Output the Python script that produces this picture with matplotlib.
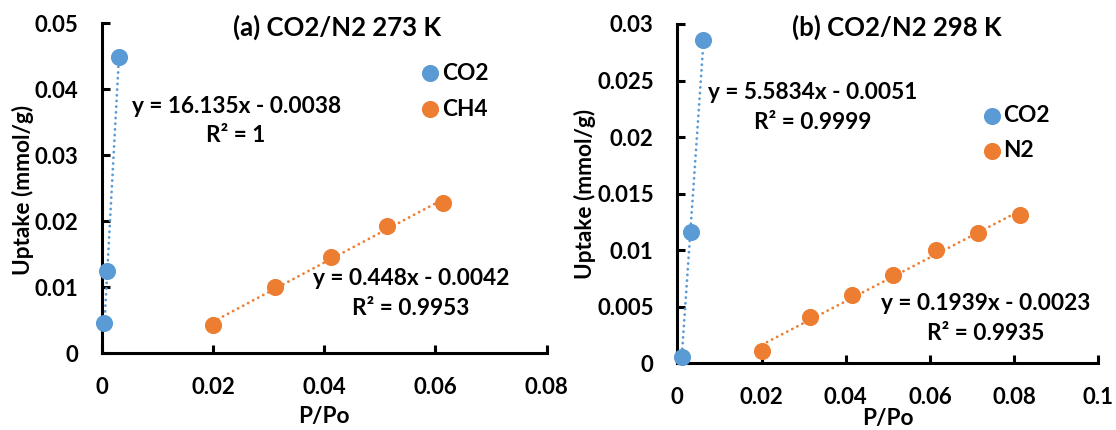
import numpy as np
import matplotlib
matplotlib.use("Agg")
import matplotlib.pyplot as plt

plt.rcParams['font.family'] = ['Lato', 'DejaVu Sans']
plt.rcParams['font.weight'] = 'bold'

# ---------------- data ----------------
a_co2_x = [0.0005, 0.001, 0.0031]
a_co2_y = [0.0046, 0.0124, 0.0449]
a_ch4_x = [0.0200, 0.0312, 0.0412, 0.0513, 0.0613]
a_ch4_y = [0.0043, 0.0101, 0.01455, 0.0193, 0.0227]

b_co2_x = [0.0010, 0.0032, 0.0062]
b_co2_y = [0.0006, 0.0116, 0.0286]
b_n2_x = [0.0201, 0.0315, 0.0414, 0.0513, 0.0614, 0.0715, 0.0814]
b_n2_y = [0.0011, 0.0041, 0.0060, 0.0078, 0.0100, 0.0115, 0.0131]

a_xticks = [0, 0.02, 0.04, 0.06, 0.08]
a_xticklabels = ["0", "0.02", "0.04", "0.06", "0.08"]
a_yticks = [0, 0.01, 0.02, 0.03, 0.04, 0.05]
a_yticklabels = ["0", "0.01", "0.02", "0.03", "0.04", "0.05"]
b_xticks = [0, 0.02, 0.04, 0.06, 0.08, 0.1]
b_xticklabels = ["0", "0.02", "0.04", "0.06", "0.08", "0.1"]
b_yticks = [0, 0.005, 0.01, 0.015, 0.02, 0.025, 0.03]
b_yticklabels = ["0", "0.005", "0.01", "0.015", "0.02", "0.025", "0.03"]

a_title = "(a) CO2/N2 273 K"
b_title = "(b) CO2/N2 298 K"
a_eq1 = ["y = 16.135x - 0.0038", "R² = 1"]
a_eq2 = ["y = 0.448x - 0.0042", "R² = 0.9953"]
b_eq1 = ["y = 5.5834x - 0.0051", "R² = 0.9999"]
b_eq2 = ["y = 0.1939x - 0.0023", "R² = 0.9935"]
a_names = ["CO2", "CH4"]
b_names = ["CO2", "N2"]

BLUE = "#5B9BD5"
ORANGE = "#ED7D31"

fig = plt.figure(figsize=(11.16, 4.30), dpi=100)
W, H = 1116, 430

def make_ax(l, r, t, b):
    return fig.add_axes([l / W, 1 - b / H, (r - l) / W, (b - t) / H])

axa = make_ax(101.7, 546.7, 23.3, 353.3)
axb = make_ax(677.3, 1098.3, 24.0, 363.3)

TICK_FS = 16
TXT_FS = 16.3
TITLE_FS = 18.5

def style(ax, xt, xtl, yt, ytl, xlim, ylim):
    ax.set_xlim(*xlim)
    ax.set_ylim(*ylim)
    for s in ["top", "right"]:
        ax.spines[s].set_visible(False)
    for s in ["left", "bottom"]:
        ax.spines[s].set_linewidth(2.2)
        ax.spines[s].set_color("black")
    ax.set_xticks(xt)
    ax.set_xticklabels(xtl)
    ax.set_yticks(yt)
    ax.set_yticklabels(ytl)
    ax.tick_params(axis="both", direction="in", length=6, width=2.2,
                   labelsize=TICK_FS, color="black")
    ax.tick_params(axis="x", pad=17)
    ax.tick_params(axis="y", pad=17)
    for lab in ax.get_xticklabels() + ax.get_yticklabels():
        lab.set_fontweight("bold")

def series(ax, x, y, color):
    x = np.asarray(x); y = np.asarray(y)
    k, c = np.polyfit(x, y, 1)
    xx = np.array([x.min(), x.max()])
    ax.plot(xx, k * xx + c, color=color, lw=2.0,
            linestyle=(0, (0.05, 2.0)), dash_capstyle="round", zorder=2,
            clip_on=False)
    ax.plot(x, y, "o", color=color, ms=11.3, mec=color, zorder=3, clip_on=False)

style(axa, a_xticks, a_xticklabels, a_yticks, a_yticklabels, (0, 0.08), (0, 0.05))
style(axb, b_xticks, b_xticklabels, b_yticks, b_yticklabels, (0, 0.1), (0, 0.03))

series(axa, a_co2_x, a_co2_y, BLUE)
series(axa, a_ch4_x, a_ch4_y, ORANGE)
series(axb, b_co2_x, b_co2_y, BLUE)
series(axb, b_n2_x, b_n2_y, ORANGE)

def txt(ax, x, y, s, fs=TXT_FS, ha="center"):
    ax.text(x, y, s, transform=ax.transAxes, ha=ha, va="center",
            fontsize=fs, fontweight="bold", color="black")

# panel a annotations
txt(axa, 0.528, 0.989, a_title, fs=TITLE_FS)
txt(axa, 0.302, 0.749, a_eq1[0]); txt(axa, 0.302, 0.661, a_eq1[1])
txt(axa, 0.695, 0.228, a_eq2[0]); txt(axa, 0.695, 0.137, a_eq2[1])
for (yy, name, col) in [(0.849, a_names[0], BLUE), (0.740, a_names[1], ORANGE)]:
    axa.plot([0.738], [yy], "o", color=col, ms=11.3, transform=axa.transAxes, clip_on=False)
    txt(axa, 0.764, yy, name, ha="left")

# panel b annotations
txt(axb, 0.522, 0.991, b_title, fs=TITLE_FS)
txt(axb, 0.322, 0.797, b_eq1[0]); txt(axb, 0.322, 0.711, b_eq1[1])
txt(axb, 0.732, 0.175, b_eq2[0]); txt(axb, 0.732, 0.089, b_eq2[1])
for (yy, name, col) in [(0.729, b_names[0], BLUE), (0.626, b_names[1], ORANGE)]:
    axb.plot([0.7475], [yy], "o", color=col, ms=11.3, transform=axb.transAxes, clip_on=False)
    txt(axb, 0.775, yy, name, ha="left")

# axis labels
fig.text(23 / W, 1 - 190 / H, "Uptake (mmol/g)", rotation=90, ha="center", va="center",
         fontsize=TXT_FS, fontweight="bold")
fig.text(585 / W, 1 - 194 / H, "Uptake (mmol/g)", rotation=90, ha="center", va="center",
         fontsize=TXT_FS, fontweight="bold")
fig.text(324 / W, 1 - 417 / H, "P/Po", ha="center", va="center",
         fontsize=TXT_FS, fontweight="bold")
fig.text(888 / W, 1 - 418 / H, "P/Po", ha="center", va="center",
         fontsize=TXT_FS, fontweight="bold")

fig.savefig("out.png", dpi=100)
